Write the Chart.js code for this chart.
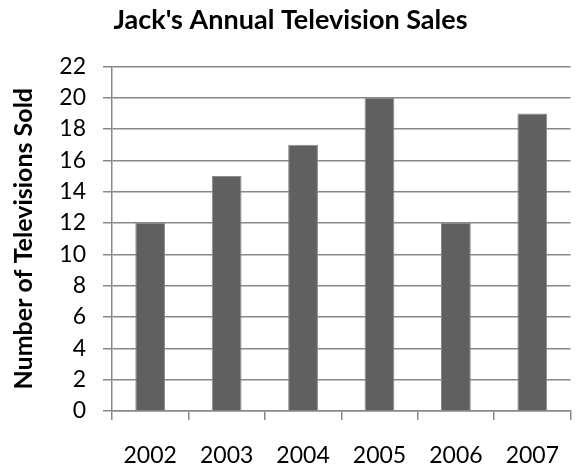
<!DOCTYPE html>
<html>
<head>
<meta charset="utf-8">
<script src="https://cdn.jsdelivr.net/npm/chart.js@4"></script>
<style>
  html, body { margin: 0; padding: 0; background: #fff; }
  #wrap { width: 581px; height: 466px; }
</style>
</head>
<body>
<div id="wrap"><canvas id="salesChart" width="581" height="466"></canvas></div>
<script>
const years = ['2002', '2003', '2004', '2005', '2006', '2007'];
const televisionsSold = [12, 15, 17, 20, 12, 19];
const yTicksMax = 22;
const yTicksStep = 2;

document.addEventListener('DOMContentLoaded', function() {
  const fontFamily = 'Lato, "Open Sans", sans-serif';
  const ctx = document.getElementById('salesChart').getContext('2d');
  new Chart(ctx, {
    type: 'bar',
    data: {
      labels: years,
      datasets: [{
        label: 'Number of Televisions Sold',
        data: televisionsSold,
        backgroundColor: '#606060',
        borderColor: '#8a8a8a',
        borderWidth: 1,
        barPercentage: 0.39,
        categoryPercentage: 1
      }]
    },
    options: {
      responsive: false,
      animation: false,
      layout: { padding: { left: 0, right: 0, top: 0, bottom: 0 } },
      scales: {
        x: {
          grid: {
            drawOnChartArea: false,
            drawTicks: true,
            tickLength: 9,
            color: '#888',
            lineWidth: 1.5
          },
          border: { color: '#888', width: 1.5 },
          ticks: {
            color: '#000',
            padding: 22,
            maxRotation: 0,
            font: { family: fontFamily, size: 23 }
          },
          afterFit: function(scale) { scale.height = 55; }
        },
        y: {
          min: 0,
          max: yTicksMax,
          ticks: {
            stepSize: yTicksStep,
            color: '#000',
            padding: 17,
            font: { family: fontFamily, size: 23 }
          },
          grid: {
            color: '#888',
            lineWidth: 1.5,
            tickLength: 9
          },
          border: { color: '#888', width: 1.5 },
          title: {
            display: true,
            text: 'Number of Televisions Sold',
            color: '#000',
            padding: { top: 9, bottom: 0 },
            font: { family: fontFamily, size: 25, weight: 'bold' }
          },
          afterFit: function(scale) { scale.width = 112; }
        }
      },
      plugins: {
        legend: { display: false },
        tooltip: { enabled: false },
        title: {
          display: true,
          text: "Jack's Annual Television Sales",
          color: '#000',
          padding: { top: 4, bottom: 30 },
          font: { family: fontFamily, size: 27, weight: 'bold' }
        }
      }
    }
  });
});
</script>
</body>
</html>
